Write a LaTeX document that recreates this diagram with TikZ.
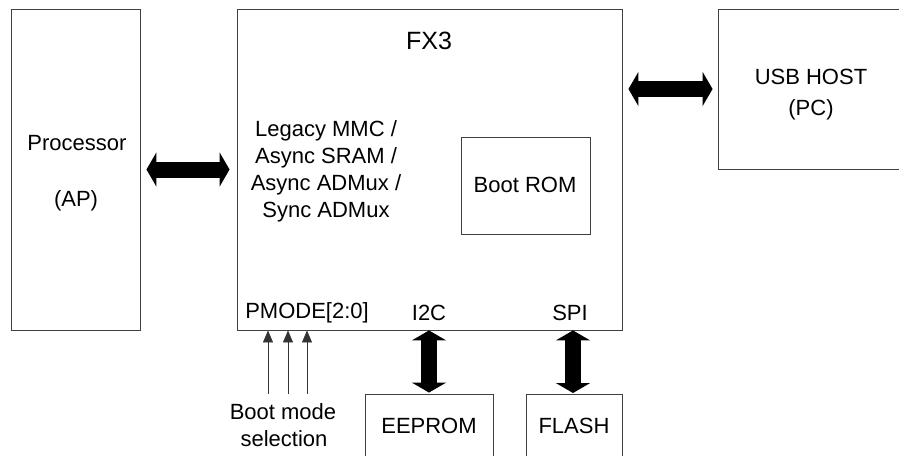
\documentclass[tikz,border=0pt]{standalone}
\usepackage{fontspec}
\setmainfont{Liberation Sans}
\usetikzlibrary{arrows.meta}
\begin{document}
\begin{tikzpicture}[x=1pt,y=-1pt,
  box/.style={draw=black!75,line width=0.9pt,inner sep=0pt},
  txt/.style={font=\fontsize{22}{27}\selectfont,anchor=base,inner sep=0pt},
  bus/.style={line width=16pt,{Triangle[length=10pt,width=34pt]}-{Triangle[length=10pt,width=34pt]}},
  sel/.style={line width=0.8pt,draw=black!80,-{Triangle[length=12pt,width=10pt]}}]
\clip (0,0) rectangle (899,455);
% boxes
\node[box,minimum width=129pt,minimum height=321pt] (proc) at (75.5,169.5) {};
\node[box,minimum width=385pt,minimum height=321pt] (fx3) at (429.5,169.5) {};
\node[box,minimum width=129pt,minimum height=97pt] (rom) at (525.5,185.5) {};
\node[box,minimum width=242pt,minimum height=160pt] (usb) at (839,89) {};
\node[box,minimum width=128pt,minimum height=86pt] (eeprom) at (429,437) {};
\node[box,minimum width=96pt,minimum height=86pt] (flash) at (574,437) {};
% texts
\node[txt] (tproc) at (77,150) {Processor};
\node[txt] (tap) at (76,206) {(AP)};
\node[txt,font=\fontsize{25}{30}\selectfont] (tfx3) at (429,49) {FX3};
\node[txt] (l1) at (326,136) {Legacy MMC /};
\node[txt] (l2) at (326,163) {Async SRAM /};
\node[txt] (l3) at (326,190) {Async ADMux /};
\node[txt] (l4) at (326,217) {Sync ADMux};
\node[txt] (trom) at (525,192) {Boot ROM};
\node[txt] (tusb) at (811,84) {USB HOST};
\node[txt] (tpc) at (811,115) {(PC)};
\node[txt] (tpm) at (307,318) {PMODE[2:0]};
\node[txt] (ti2c) at (429,320) {I2C};
\node[txt] (tspi) at (570,320) {SPI};
\node[txt] (tbm1) at (283,419) {Boot mode};
\node[txt] (tbm2) at (284,446) {selection};
\node[txt] (tee) at (429,433) {EEPROM};
\node[txt] (tfl) at (574,433) {FLASH};
% buses
\draw[bus,shorten <=6pt,shorten >=7pt] (proc.east) -- (fx3.west);
\draw[bus,shorten <=6pt,shorten >=5pt] (fx3.east |- usb.west) -- (usb.west);
\draw[bus,shorten <=1pt] (eeprom.north) -- (eeprom.north |- fx3.south);
\coordinate (spi) at (573,394);
\draw[bus,shorten <=1pt] (spi) -- (spi |- fx3.south);
% boot mode selection lines
\coordinate (bm1) at (268,394);
\coordinate (bm2) at (288,394);
\coordinate (bm3) at (307,394);
\draw[sel] (bm1) -- (bm1 |- fx3.south);
\draw[sel] (bm2) -- (bm2 |- fx3.south);
\draw[sel] (bm3) -- (bm3 |- fx3.south);
\end{tikzpicture}
\end{document}
